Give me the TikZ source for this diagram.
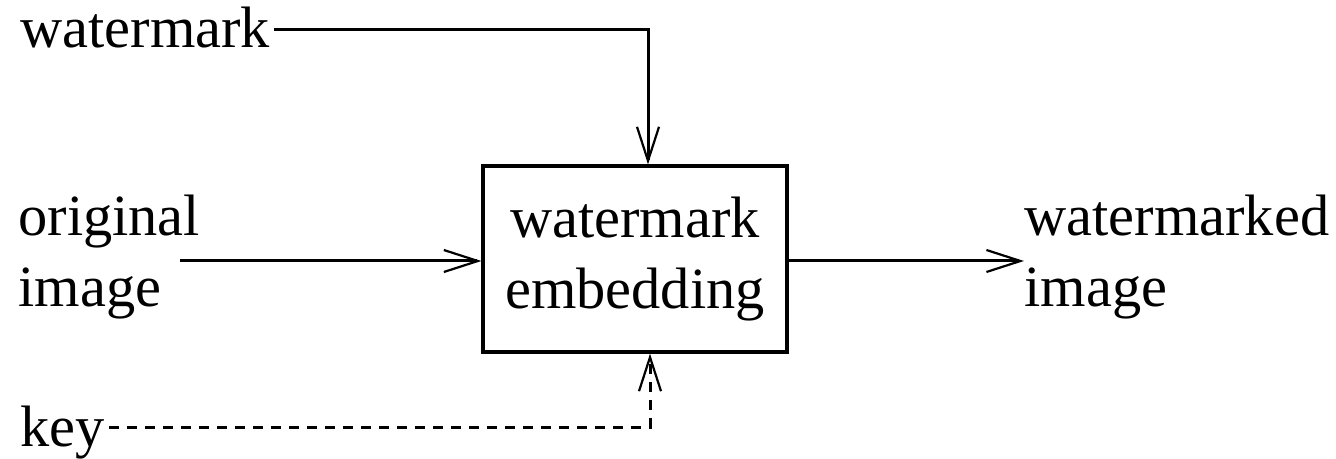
\documentclass[tikz,border=0pt]{standalone}
\usepackage{fontspec}
\setmainfont{Liberation Serif}
\usetikzlibrary{arrows.meta, positioning, calc}

\begin{document}
\begin{tikzpicture}[x=0.5pt, y=-0.5pt,
  every node/.style={font=\fontsize{29.2}{35.5}\selectfont},
  label/.style={inner sep=2pt, align=left, anchor=west},
  blockbox/.style={draw, line width=1.6pt, minimum width=152pt, minimum height=93pt, align=center, inner sep=0pt},
  link/.style={line width=1.5pt, -{Straight Barb[length=17pt, width=11pt, line width=1.1pt]}},
  keylink/.style={link, dash pattern=on 5pt off 4pt}]
\useasboundingbox (0,0) rectangle (1336,459);
\node[blockbox] (embed) at (635,259) {watermark\\embedding};
\node[label] (wm) at (16,28) {watermark};
\node[label, inner sep=0pt] (orig) at (18,257) {original\\image};
\node[label, inner sep=0pt] (out) at (1024,257) {watermarked\\image};
\node[label] (key) at (16,433) {key};
\coordinate (wmbend) at (648,30);
\coordinate (origout) at (180,261);
\coordinate (keybend) at (650,427);
\draw[link] (wm.east |- wmbend) -- (wmbend) -- (wmbend |- embed.north);
\draw[link] (origout) -- (origout -| embed.west);
\draw[link] (embed.east |- origout) -- (origout -| out.west);
\draw[keylink] (key.east |- keybend) -- (keybend) -- (keybend |- embed.south);
\end{tikzpicture}
\end{document}
